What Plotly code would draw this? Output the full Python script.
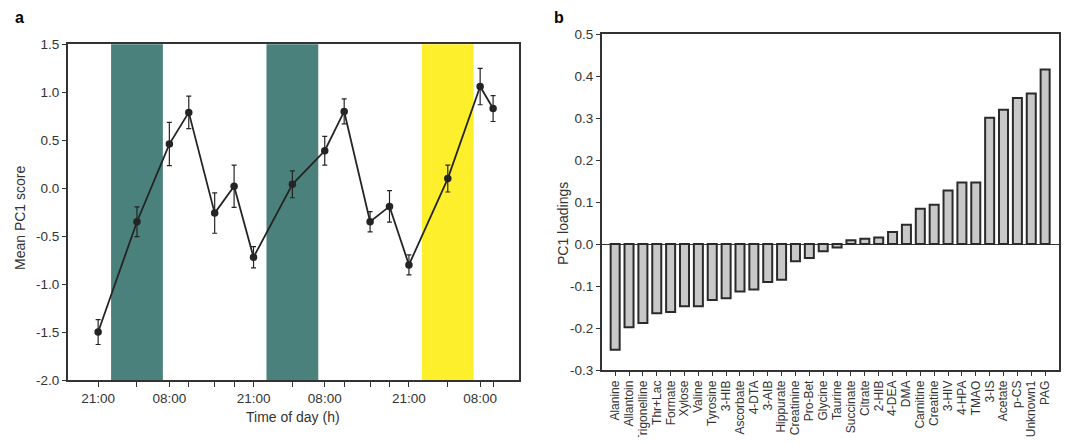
import plotly.graph_objects as go

# ---------------- Panel a data ----------------
time_h = [21, 27, 32, 35, 39, 42, 45, 51, 56, 59, 63, 66, 69, 75, 80, 82]
pc1_mean = [-1.50, -0.35, 0.46, 0.79, -0.26, 0.02, -0.72, 0.04, 0.39, 0.80,
            -0.35, -0.19, -0.80, 0.10, 1.06, 0.83]
pc1_err = [0.13, 0.155, 0.225, 0.17, 0.21, 0.22, 0.11, 0.14, 0.15, 0.13,
           0.105, 0.165, 0.105, 0.14, 0.19, 0.135]
band_start = [23, 47, 71]
band_end = [31, 55, 79]
band_color = ["#4b817d", "#4b817d", "#fdef2c"]
ya_ticks = [1.5, 1.0, 0.5, 0.0, -0.5, -1.0, -1.5, -2.0]

# ---------------- Panel b data ----------------
metabolites = ["Alanine", "Allantoin", "Trigonelline", "Thr+Lac", "Formate", "Xylose",
               "Valine", "Tyrosine", "3-HIB", "Ascorbate", "4-DTA", "3-AIB",
               "Hippurate", "Creatinine", "Pro-Bet", "Glycine", "Taurine",
               "Succinate", "Citrate", "2-HIB", "4-DEA", "DMA", "Carnitine",
               "Creatine", "3-HIV", "4-HPA", "TMAO", "3-IS", "Acetate", "p-CS",
               "Unknown1", "PAG"]
loadings = [-0.252, -0.198, -0.188, -0.165, -0.162, -0.148, -0.148, -0.133, -0.129,
            -0.113, -0.108, -0.090, -0.085, -0.041, -0.033, -0.017, -0.008,
            0.009, 0.013, 0.016, 0.029, 0.046, 0.084, 0.094, 0.128, 0.147, 0.147,
            0.301, 0.320, 0.348, 0.359, 0.416]
yb_ticks = [0.5, 0.4, 0.3, 0.2, 0.1, 0.0, -0.1, -0.2, -0.3]


def clock(h):
    return f"{h % 24:02d}:00"


xa_text = [clock(h) if h % 24 in (21, 8) else "" for h in time_h]

# page body adds an 8px margin; figure sized to fit the window
OFF = 8
W, H = 1073 - 2 * OFF, 445 - 2 * OFF


def px(x):
    return (x - OFF) / W


def py(y):
    return 1 - (y - OFF) / H


FONT = "Liberation Sans, Arial, Helvetica, sans-serif"
INK = "#242424"
TXT = "#333"
TICKF = dict(family=FONT, size=13.5, color=TXT)
TITLEF = dict(family=FONT, size=14, color=TXT)

fig = go.Figure()

fig.add_trace(go.Scatter(
    x=time_h, y=pc1_mean, mode="lines+markers",
    line=dict(color=INK, width=1.8),
    marker=dict(color=INK, size=7.5),
    error_y=dict(type="data", array=pc1_err, visible=True, color=INK,
                 thickness=1.2, width=2.5),
    xaxis="x", yaxis="y", showlegend=False,
))

fig.add_trace(go.Bar(
    x=metabolites, y=loadings, width=0.65,
    marker=dict(color="#c8c8c8", line=dict(color="#2a2a2a", width=2)),
    xaxis="x2", yaxis="y2", showlegend=False,
))

shapes = []
for s, e, c in zip(band_start, band_end, band_color):
    shapes.append(dict(type="rect", xref="x", yref="y domain", x0=s, x1=e, y0=0, y1=1,
                       fillcolor=c, line=dict(width=0), layer="below"))

axis_common = dict(showline=True, linecolor="#333", linewidth=1.5, mirror=True,
                   showgrid=False, ticks="outside", tickcolor="#333", tickwidth=1,
                   automargin=False)

fig.update_layout(
    width=W, height=H,
    margin=dict(l=0, r=0, t=0, b=0, autoexpand=False),
    paper_bgcolor="white", plot_bgcolor="white",
    font=dict(family=FONT, size=12, color=TXT),
    shapes=shapes,
    xaxis=dict(domain=[px(67.7), px(519)], range=[16.3, 86.0],
               tickmode="array", tickvals=time_h, ticktext=xa_text, ticklen=5,
               tickfont=TICKF, zeroline=False, anchor="y", **axis_common),
    yaxis=dict(domain=[py(380), py(44.3)], range=[-2.0, 1.5],
               tickmode="array", tickvals=ya_ticks,
               ticktext=[f"{v:.1f}" for v in ya_ticks], ticklen=4,
               tickfont=TICKF, zeroline=False, anchor="x", **axis_common),
    xaxis2=dict(domain=[px(601.7), px(1059)], range=[-0.97, 32.0],
                tickmode="array", tickvals=metabolites, ticktext=metabolites,
                tickangle=-90, ticklen=4, anchor="y2",
                tickfont=dict(family=FONT, size=12, color=TXT), **axis_common),
    yaxis2=dict(domain=[py(370), py(34.3)], range=[-0.3, 0.5],
                tickmode="array", tickvals=yb_ticks,
                ticktext=[f"{v:.1f}" for v in yb_ticks], ticklen=4,
                tickfont=TICKF,
                zeroline=True, zerolinecolor="#333", zerolinewidth=1.2,
                anchor="x2", **axis_common),
    annotations=[
        dict(text="<b>a</b>", x=px(13), y=py(18), xref="paper", yref="paper",
             showarrow=False, xanchor="left", yanchor="middle",
             font=dict(family=FONT, size=16, color="black")),
        dict(text="<b>b</b>", x=px(552), y=py(18), xref="paper", yref="paper",
             showarrow=False, xanchor="left", yanchor="middle",
             font=dict(family=FONT, size=16, color="black")),
        dict(text="Time of day (h)", x=px((67.7 + 519) / 2), y=py(417),
             xref="paper", yref="paper", showarrow=False,
             xanchor="center", yanchor="middle", font=TITLEF),
        dict(text="Mean PC1 score", x=px(20), y=py(218), xref="paper", yref="paper",
             showarrow=False, textangle=-90, xanchor="center", yanchor="middle",
             font=TITLEF),
        dict(text="PC1 loadings", x=px(563), y=py(224), xref="paper", yref="paper",
             showarrow=False, textangle=-90, xanchor="center", yanchor="middle",
             font=TITLEF),
    ],
)

fig.write_html("out.html")
